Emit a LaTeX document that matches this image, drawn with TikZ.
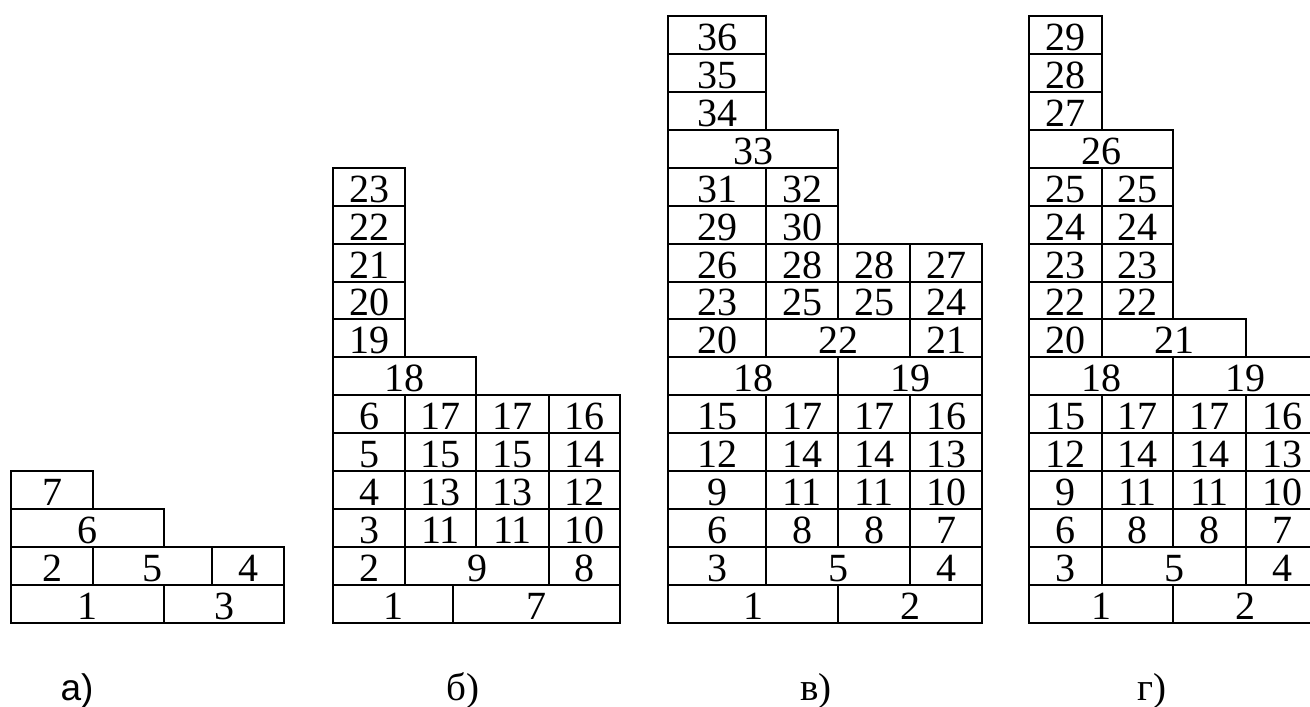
\documentclass[tikz,border=0pt]{standalone}
\usepackage{fontspec}
\setmainfont{Liberation Serif}
\newfontfamily\labsans{Liberation Sans}
\tikzset{
  cellline/.style={line width=1pt},
  num/.style={anchor=base, inner sep=0pt, font=\fontsize{20}{21}\selectfont},
  plab/.style={anchor=base, inner sep=0pt, font=\fontsize{19.5}{21}\selectfont},
}
\newcommand\blk[5]{%
  \draw[cellline] (#2,{623-#4*37.94}) rectangle (#3,{623-(#4+1)*37.94});
  \node[num] (#1) at ({(#2+#3)/2},{623-#4*37.94-3.5}) {#5};}
\begin{document}
\begin{tikzpicture}[x=0.5pt,y=-0.5pt]
\useasboundingbox (0,0) rectangle (1310,706);
\clip (0,0) rectangle (1310,706);
% ---------- panel a ----------
\blk{A00}{11}{164}{0}{1}
\blk{A01}{164}{284}{0}{3}
\blk{A10}{11}{93}{1}{2}
\blk{A11}{93}{212}{1}{5}
\blk{A12}{212}{284}{1}{4}
\blk{A20}{11}{164}{2}{6}
\blk{A30}{11}{93}{3}{7}
% ---------- panel b ----------
\blk{B00}{333}{453}{0}{1}
\blk{B01}{453}{620}{0}{7}
\blk{B10}{333}{405}{1}{2}
\blk{B11}{405}{549}{1}{9}
\blk{B12}{549}{620}{1}{8}
\blk{B20}{333}{405}{2}{3}
\blk{B21}{405}{476}{2}{11}
\blk{B22}{476}{549}{2}{11}
\blk{B23}{549}{620}{2}{10}
\blk{B30}{333}{405}{3}{4}
\blk{B31}{405}{476}{3}{13}
\blk{B32}{476}{549}{3}{13}
\blk{B33}{549}{620}{3}{12}
\blk{B40}{333}{405}{4}{5}
\blk{B41}{405}{476}{4}{15}
\blk{B42}{476}{549}{4}{15}
\blk{B43}{549}{620}{4}{14}
\blk{B50}{333}{405}{5}{6}
\blk{B51}{405}{476}{5}{17}
\blk{B52}{476}{549}{5}{17}
\blk{B53}{549}{620}{5}{16}
\blk{B60}{333}{476}{6}{18}
\blk{B70}{333}{405}{7}{19}
\blk{B80}{333}{405}{8}{20}
\blk{B90}{333}{405}{9}{21}
\blk{BA0}{333}{405}{10}{22}
\blk{BB0}{333}{405}{11}{23}
% ---------- panel v ----------
\blk{V00}{668}{838}{0}{1}
\blk{V01}{838}{982}{0}{2}
\blk{V10}{668}{766}{1}{3}
\blk{V11}{766}{910}{1}{5}
\blk{V12}{910}{982}{1}{4}
\blk{V20}{668}{766}{2}{6}
\blk{V21}{766}{838}{2}{8}
\blk{V22}{838}{910}{2}{8}
\blk{V23}{910}{982}{2}{7}
\blk{V30}{668}{766}{3}{9}
\blk{V31}{766}{838}{3}{11}
\blk{V32}{838}{910}{3}{11}
\blk{V33}{910}{982}{3}{10}
\blk{V40}{668}{766}{4}{12}
\blk{V41}{766}{838}{4}{14}
\blk{V42}{838}{910}{4}{14}
\blk{V43}{910}{982}{4}{13}
\blk{V50}{668}{766}{5}{15}
\blk{V51}{766}{838}{5}{17}
\blk{V52}{838}{910}{5}{17}
\blk{V53}{910}{982}{5}{16}
\blk{V60}{668}{838}{6}{18}
\blk{V61}{838}{982}{6}{19}
\blk{V70}{668}{766}{7}{20}
\blk{V71}{766}{910}{7}{22}
\blk{V72}{910}{982}{7}{21}
\blk{V80}{668}{766}{8}{23}
\blk{V81}{766}{838}{8}{25}
\blk{V82}{838}{910}{8}{25}
\blk{V83}{910}{982}{8}{24}
\blk{V90}{668}{766}{9}{26}
\blk{V91}{766}{838}{9}{28}
\blk{V92}{838}{910}{9}{28}
\blk{V93}{910}{982}{9}{27}
\blk{VA0}{668}{766}{10}{29}
\blk{VA1}{766}{838}{10}{30}
\blk{VB0}{668}{766}{11}{31}
\blk{VB1}{766}{838}{11}{32}
\blk{VC0}{668}{838}{12}{33}
\blk{VD0}{668}{766}{13}{34}
\blk{VE0}{668}{766}{14}{35}
\blk{VF0}{668}{766}{15}{36}
% ---------- panel g ----------
\blk{G00}{1029}{1173}{0}{1}
\blk{G01}{1173}{1318}{0}{2}
\blk{G10}{1029}{1102}{1}{3}
\blk{G11}{1102}{1246}{1}{5}
\blk{G12}{1246}{1318}{1}{4}
\blk{G20}{1029}{1102}{2}{6}
\blk{G21}{1102}{1173}{2}{8}
\blk{G22}{1173}{1246}{2}{8}
\blk{G23}{1246}{1318}{2}{7}
\blk{G30}{1029}{1102}{3}{9}
\blk{G31}{1102}{1173}{3}{11}
\blk{G32}{1173}{1246}{3}{11}
\blk{G33}{1246}{1318}{3}{10}
\blk{G40}{1029}{1102}{4}{12}
\blk{G41}{1102}{1173}{4}{14}
\blk{G42}{1173}{1246}{4}{14}
\blk{G43}{1246}{1318}{4}{13}
\blk{G50}{1029}{1102}{5}{15}
\blk{G51}{1102}{1173}{5}{17}
\blk{G52}{1173}{1246}{5}{17}
\blk{G53}{1246}{1318}{5}{16}
\blk{G60}{1029}{1173}{6}{18}
\blk{G61}{1173}{1318}{6}{19}
\blk{G70}{1029}{1102}{7}{20}
\blk{G71}{1102}{1246}{7}{21}
\blk{G80}{1029}{1102}{8}{22}
\blk{G81}{1102}{1173}{8}{22}
\blk{G90}{1029}{1102}{9}{23}
\blk{G91}{1102}{1173}{9}{23}
\blk{GA0}{1029}{1102}{10}{24}
\blk{GA1}{1102}{1173}{10}{24}
\blk{GB0}{1029}{1102}{11}{25}
\blk{GB1}{1102}{1173}{11}{25}
\blk{GC0}{1029}{1173}{12}{26}
\blk{GD0}{1029}{1102}{13}{27}
\blk{GE0}{1029}{1102}{14}{28}
\blk{GF0}{1029}{1102}{15}{29}
% ---------- captions ----------
\node[plab, font=\labsans\fontsize{18.5}{21}\selectfont] (capA) at (77,700) {а)};
\node[plab] (capB) at (463,700) {б)};
\node[plab] (capV) at (816,700) {в)};
\node[plab] (capG) at (1152,700) {г)};
\end{tikzpicture}
\end{document}
